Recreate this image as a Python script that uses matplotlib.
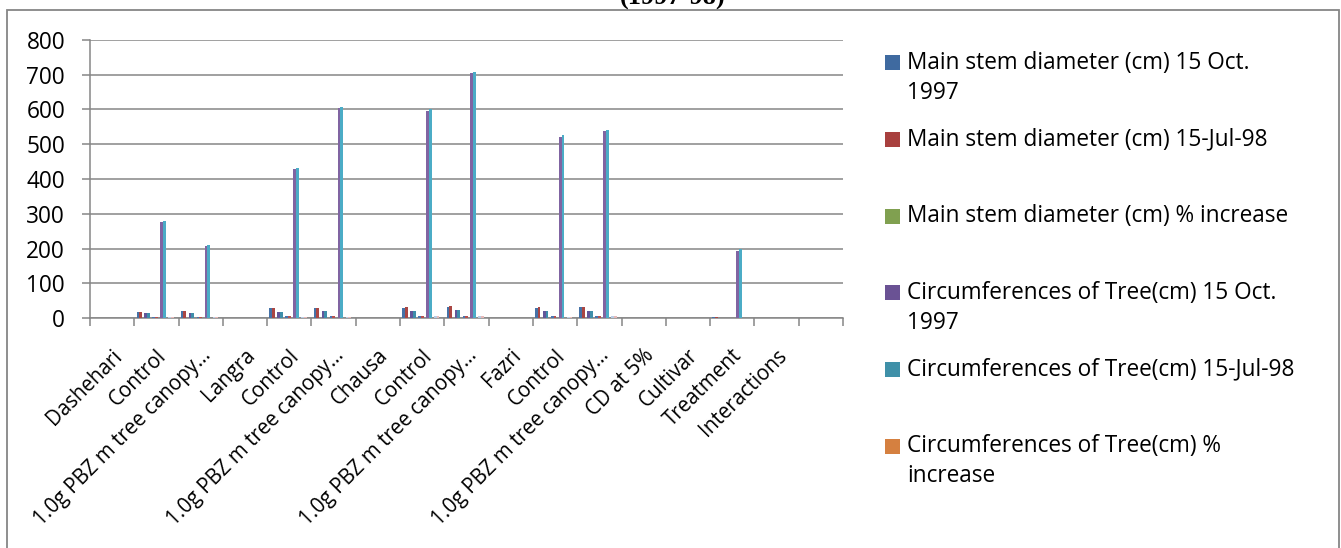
import numpy as np
import matplotlib
matplotlib.use('Agg')
import matplotlib.pyplot as plt
import matplotlib.transforms as mtransforms
from matplotlib.patches import Rectangle

# Categories along the x axis (last slot has no label)
categories = ['Dashehari', 'Control', '1.0g PBZ m tree canopy…', 'Langra',
              'Control', '1.0g PBZ m tree canopy…', 'Chausa', 'Control',
              '1.0g PBZ m tree canopy…', 'Fazri', 'Control',
              '1.0g PBZ m tree canopy…', 'CD at 5%', 'Cultivar', 'Treatment',
              'Interactions', '']

# Series values, one entry per category
diam_oct97 = [0, 18, 21, 0, 30, 29, 0, 30, 33, 0, 30, 32, 0, 0, 1.5, 0, 0]
diam_jul98 = [0, 18, 21, 0, 30, 30, 0, 31, 34, 0, 31, 33, 0, 0, 1.5, 0, 0]
diam_pct = [0, 0, 0, 0, 0, 0, 0, 0, 0, 0, 0, 0, 0, 0, 0, 0, 0]
circ_oct97 = [0, 15, 15, 0, 18, 21, 0, 21, 24, 0, 19, 19, 0, 0, 0, 0, 0]
circ_jul98 = [0, 15, 14, 0, 18, 20, 0, 20, 23, 0, 19, 19, 0, 0, 0, 0, 0]
circ_pct = [0, 0, 0, 0, 0, 0, 0, 0, 0, 0, 0, 0, 0, 0, 0, 0, 0]
s07 = [0, 4, 4, 0, 5, 6, 0, 5, 5, 0, 5, 5, 0, 0, 0, 0, 0]
s08 = [0, 4, 4, 0, 5, 6, 0, 5, 5, 0, 5, 5, 0, 0, 0, 0, 0]
s09 = [0, 0, 0, 0, 0, 0, 0, 0, 0, 0, 0, 0, 0, 0, 0, 0, 0]
s10 = [0, 277, 208, 0, 430, 604, 0, 597, 705, 0, 522, 538, 0, 0, 192, 0, 0]
s11 = [0, 280, 211, 0, 433, 607, 0, 600, 709, 0, 527, 540, 0, 0, 199, 0, 0]
s12 = [0, 0, 0, 0, 0, 0, 0, 0, 0, 0, 0, 0, 0, 0, 0, 0, 0]
s13 = [0, 3, 3, 0, 3, 4, 0, 5, 5, 0, 4, 5, 0, 0, 0, 0, 0]
s14 = [0, 3, 3, 0, 3, 4, 0, 5, 5, 0, 4, 5, 0, 0, 0, 0, 0]
s15 = [0, 0, 0, 0, 0, 0, 0, 0, 0, 0, 0, 0, 0, 0, 0, 0, 0]

legend_labels = ['Main stem diameter (cm) 15 Oct.\n1997',
                 'Main stem diameter (cm) 15-Jul-98',
                 'Main stem diameter (cm) % increase',
                 'Circumferences of Tree(cm) 15 Oct.\n1997',
                 'Circumferences of Tree(cm) 15-Jul-98',
                 'Circumferences of Tree(cm) %\nincrease']

series = [diam_oct97, diam_jul98, diam_pct, circ_oct97, circ_jul98, circ_pct,
          s07, s08, s09, s10, s11, s12, s13, s14, s15]
colors = ['#4572A7', '#AA4643', '#89A54E', '#62569A', '#3E8EAA', '#DB843D',
          '#4A75B0', '#B8504D', '#77933C', '#8064A2', '#4BACC6', '#E46C0A',
          '#B9CDE5', '#E6B9B8', '#D7E4BD']
legend_colors = ['#3F6AA0', '#A8403E', '#80A050', '#6A5294', '#3F90A8',
                 '#D58040']

plt.rcParams['font.family'] = ['Open Sans', 'DejaVu Sans']
grid_col = '#868686'
fs = 16.3

W, H = 1341, 548
fig = plt.figure(figsize=(W / 100, H / 100), dpi=100)
ax = fig.add_axes([90 / W, 1 - 318 / H, (843 - 90) / W, (318 - 40) / H])

x = np.arange(len(categories))
n = len(series)
bw = 0.9 / n
for k, (vals, c) in enumerate(zip(series, colors)):
    ax.bar(x - 0.45 + (k + 0.5) * bw, vals, width=bw, color=c, linewidth=0,
           zorder=3)

ax.set_xlim(-0.5, len(categories) - 0.5)
ax.set_ylim(0, 800)
ax.set_yticks(np.arange(0, 801, 100))
ax.yaxis.grid(True, color=grid_col, linewidth=1.1, zorder=0)
ax.set_axisbelow(True)
for s in ['top', 'right']:
    ax.spines[s].set_visible(False)
for s in ['left', 'bottom']:
    ax.spines[s].set_color(grid_col)
    ax.spines[s].set_linewidth(1.1)
ax.tick_params(axis='y', length=6, width=1.1, color=grid_col, pad=12,
               labelsize=fs)

# category boundaries carry the tick marks, labels sit at the centres
ax.set_xticks(x)
ax.set_xticks(np.arange(-0.5, len(categories)), minor=True)
ax.tick_params(axis='x', which='major', length=0, pad=25)
ax.tick_params(axis='x', which='minor', length=6, width=1.1, color=grid_col)
ax.set_xticklabels(categories, rotation=45, ha='right', va='center',
                   rotation_mode='anchor', fontsize=14.8)
shift = mtransforms.ScaledTranslation(7 / 100, 0, fig.dpi_scale_trans)
for lbl in ax.get_xticklabels():
    lbl.set_transform(lbl.get_transform() + shift)

# chart border and clipped title
fig.patches.append(Rectangle((7 / W, -0.01), (1339 - 7) / W, 1.01 - 10 / H,
                             transform=fig.transFigure, fill=False,
                             edgecolor=grid_col, linewidth=1.3))
fig.text(673 / W, 1 - 5 / H, '(1997-98)', ha='center', va='baseline',
         fontsize=19, fontweight='bold', family='Liberation Serif')

# legend drawn by hand
for i, (lab, c) in enumerate(zip(legend_labels, legend_colors)):
    yc = 63 + i * 76.6
    fig.patches.append(Rectangle((885 / W, 1 - (yc + 7.5) / H), 15 / W,
                                 15 / H, transform=fig.transFigure,
                                 facecolor=c, edgecolor='none'))
    for j, line in enumerate(lab.split('\n')):
        fig.text(907 / W, 1 - (yc + j * 30) / H, line, ha='left',
                 va='center', fontsize=fs)

fig.savefig('out.png', dpi=100)
